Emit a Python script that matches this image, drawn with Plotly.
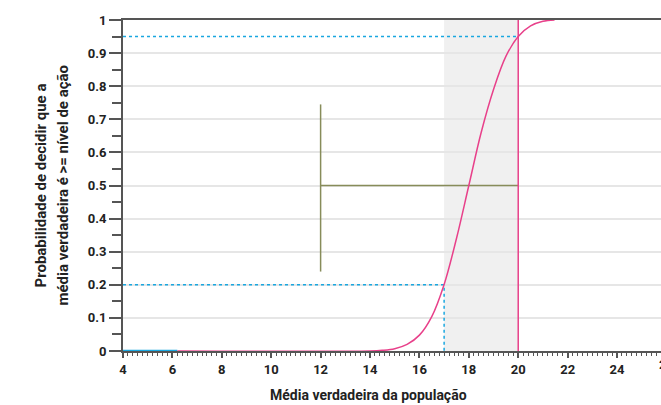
import plotly.graph_objects as go

# Power curve (probability of deciding true mean >= action level)
curve_x = [6.2, 14.0, 14.5, 15.0, 15.5, 16.0, 16.5, 17.0, 17.5, 18.0, 18.5, 19.0, 19.5, 20.0, 20.5, 21.0, 21.47]
curve_y = [0.0, 0.0, 0.002, 0.007, 0.02, 0.048, 0.104, 0.201, 0.34, 0.5, 0.66, 0.79, 0.89, 0.95, 0.982, 0.996, 1.0]

action_level = 20
lower_bound = 17
prob_low = 0.2
prob_high = 0.95
interval_x = [12, 20]
interval_mid = 0.5
interval_y = [0.24, 0.745]

x_ticks = [4, 6, 8, 10, 12, 14, 16, 18, 20, 22, 24]
y_ticks = [0, 0.1, 0.2, 0.3, 0.4, 0.5, 0.6, 0.7, 0.8, 0.9, 1]
y_tick_text = ["0", "0.1", "0.2", "0.3", "0.4", "0.5", "0.6", "0.7", "0.8", "0.9", "1"]

PINK = "#e8408a"
CYAN = "#1aa7e0"
OLIVE = "#878c5a"
AX = "#555555"
FONT = dict(family="Roboto", size=13, color="#222222", weight="bold")
TFONT = dict(family="Roboto", size=14, color="#222222", weight="bold")
YTFONT = dict(family="Roboto", size=15, color="#222222", weight="bold")

fig = go.Figure()

# cyan reference lines
fig.add_trace(go.Scatter(x=[4, action_level], y=[prob_high, prob_high], mode="lines",
                         line=dict(color=CYAN, width=1.5, dash="dot"), hoverinfo="skip"))
fig.add_trace(go.Scatter(x=[4, lower_bound, lower_bound], y=[prob_low, prob_low, 0], mode="lines",
                         line=dict(color=CYAN, width=1.5, dash="dot"), hoverinfo="skip"))
fig.add_trace(go.Scatter(x=[4, curve_x[0]], y=[0, 0], mode="lines",
                         line=dict(color=CYAN, width=2.5), hoverinfo="skip"))

# olive interval
fig.add_trace(go.Scatter(x=[interval_x[0], interval_x[0]], y=interval_y, mode="lines",
                         line=dict(color=OLIVE, width=1.5), hoverinfo="skip"))
fig.add_trace(go.Scatter(x=interval_x, y=[interval_mid, interval_mid], mode="lines",
                         line=dict(color=OLIVE, width=1.5), hoverinfo="skip"))

# action level line
fig.add_trace(go.Scatter(x=[action_level, action_level], y=[0, 1], mode="lines",
                         line=dict(color=PINK, width=1.5), hoverinfo="skip"))

# curve
fig.add_trace(go.Scatter(x=curve_x, y=curve_y, mode="lines", line=dict(color=PINK, width=1.5, shape="spline"),
                         hoverinfo="skip"))

# shaded gray region
fig.add_shape(type="rect", xref="x", yref="y", x0=lower_bound, x1=action_level, y0=0, y1=1,
              fillcolor="#f0f0f0", line=dict(width=0), layer="below")

fig.update_layout(
    width=661, height=405,
    margin=dict(l=123, r=0, t=20, b=54),
    plot_bgcolor="white", paper_bgcolor="white",
    showlegend=False,
    font=FONT,
)
fig.update_xaxes(
    range=[4, 25.78], tickvals=x_ticks, ticktext=[str(v) for v in x_ticks],
    showgrid=False, zeroline=False,
    showline=True, linecolor=AX, linewidth=2, mirror=True,
    ticks="outside", ticklen=5, tickwidth=1.5, tickcolor=AX,
    minor=dict(dtick=0.2, ticks="outside", ticklen=3, tickwidth=1, tickcolor=AX, showgrid=False),
    tickfont=FONT,
)
fig.update_yaxes(
    range=[0, 1], tickvals=y_ticks, ticktext=y_tick_text,
    showgrid=True, gridcolor="#e6e6e6", gridwidth=1.5, zeroline=False,
    showline=True, linecolor=AX, linewidth=2,
    ticks="outside", ticklen=12, tickwidth=1.5, tickcolor=AX,
    minor=dict(dtick=0.05, ticks="outside", ticklen=9, tickwidth=1.5, tickcolor=AX, showgrid=False),
    tickfont=FONT,
)

fig.add_annotation(text="Probabilidade de decidir que a",
                   xref="paper", yref="paper", x=(40 - 123) / 538, y=0.5, xanchor="center", yanchor="middle",
                   textangle=-90, showarrow=False, font=YTFONT)
fig.add_annotation(text="média verdadeira é >= nível de ação",
                   xref="paper", yref="paper", x=(62 - 123) / 538, y=0.5, xanchor="center", yanchor="middle",
                   textangle=-90, showarrow=False, font=YTFONT)
fig.add_annotation(text="Média verdadeira da população",
                   xref="paper", yref="paper", x=(368 - 123) / 538, y=0, yshift=-34,
                   xanchor="center", yanchor="top", showarrow=False, font=TFONT)
fig.add_annotation(text="26", xref="paper", yref="paper", x=(666.4 - 123) / 538, y=0, yshift=-4,
                   xanchor="center", yanchor="top", showarrow=False, font=FONT)

fig.write_html("out.html")
